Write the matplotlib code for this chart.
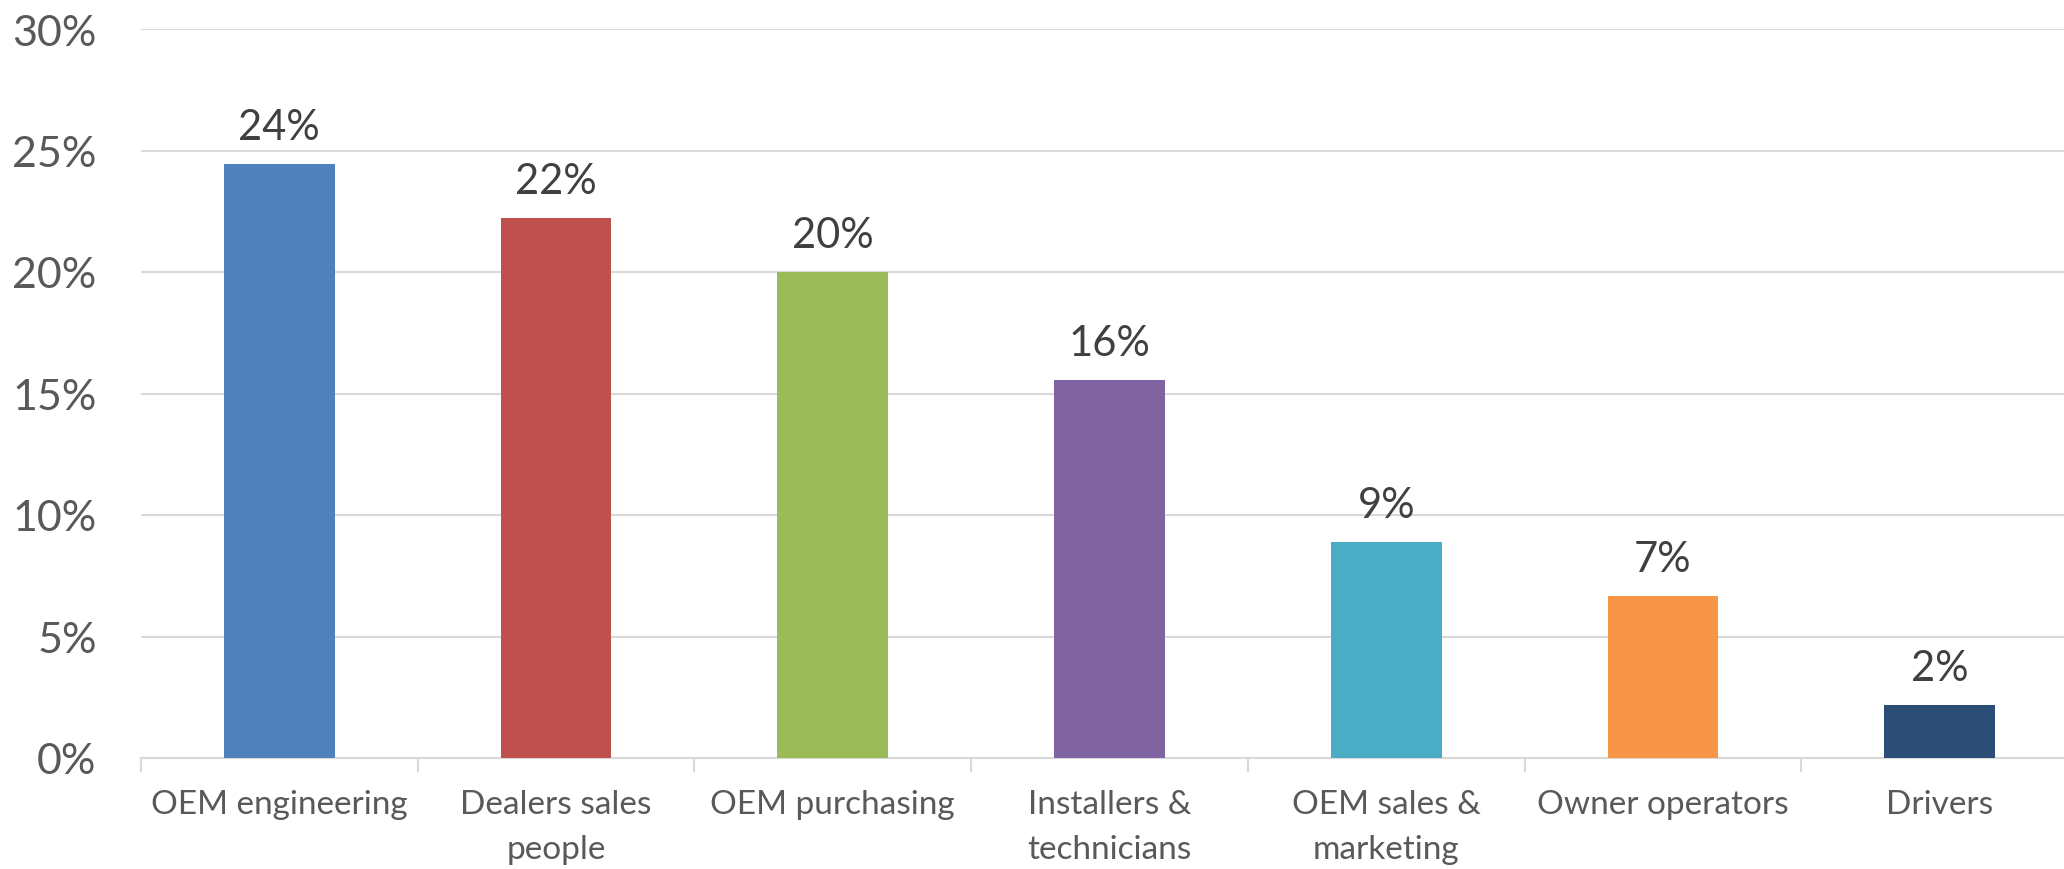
import matplotlib.pyplot as plt
from matplotlib.ticker import FuncFormatter, FixedLocator

categories = ['OEM engineering', 'Dealers sales\npeople', 'OEM purchasing', 'Installers &\ntechnicians',
              'OEM sales &\nmarketing', 'Owner operators', 'Drivers']
shares = [24.44, 22.22, 20.0, 15.55, 8.88, 6.65, 2.18]
colors = ['#4F81BD', '#C0504D', '#9BBB59', '#8064A2', '#4BACC6', '#F79646', '#2C4D75']

plt.rcParams['font.family'] = ['Lato', 'DejaVu Sans']

fig = plt.figure(figsize=(20.64, 8.7), dpi=100)
# plot area runs a little past the right edge, like the cropped original
ax = fig.add_axes([141 / 2064, 1 - 759 / 870, 1937 / 2064, (759 - 30) / 870])

x = range(len(categories))
ax.bar(x, shares, width=0.40, color=colors, zorder=3)
for i, v in enumerate(shares):
    ax.annotate(f'{v:.0f}%', (i, v), xytext=(0, 13), textcoords='offset points',
                ha='center', va='bottom', fontsize=30, color='#404040')

ax.set_xlim(-0.5, len(categories) - 0.5)
ax.set_ylim(0, 30)
ax.set_yticks(range(0, 31, 5))
ax.yaxis.set_major_formatter(FuncFormatter(lambda v, p: f'{v:.0f}%'))
ax.tick_params(axis='y', length=0, pad=32, labelsize=31, labelcolor='#595959')

ax.set_xticks(list(x))
ax.set_xticklabels(categories, fontsize=24, color='#595959', linespacing=1.65)
ax.xaxis.set_minor_locator(FixedLocator([i - 0.5 for i in range(len(categories) + 1)]))
ax.tick_params(axis='x', which='major', length=0, pad=22)
ax.tick_params(axis='x', which='minor', length=10, width=1.5, color='#d9d9d9')

ax.grid(axis='y', color='#d9d9d9', linewidth=1.5, zorder=0)
for s in ['top', 'right', 'left']:
    ax.spines[s].set_visible(False)
ax.spines['bottom'].set_color('#d9d9d9')
ax.spines['bottom'].set_linewidth(1.5)

plt.savefig('out.png', dpi=100)
